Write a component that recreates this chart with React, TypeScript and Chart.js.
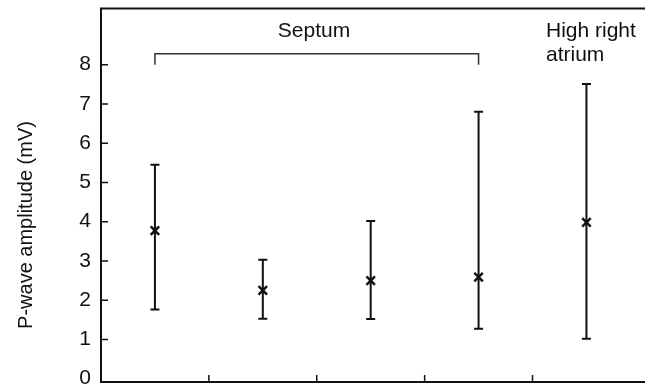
import { useEffect, useRef } from 'react';
import { Chart, registerables } from 'chart.js';

Chart.register(...registerables);

// ---- data ----
const categories = ['Septum 1', 'Septum 2', 'Septum 3', 'Septum 4', 'High right atrium'];
const means = [3.77, 2.25, 2.5, 2.59, 3.98];
const lows = [1.76, 1.53, 1.52, 1.27, 1.02];
const highs = [5.45, 3.03, 4.02, 6.8, 7.51];
const yTickValues = [0, 1, 2, 3, 4, 5, 6, 7, 8];
const xBoundaryTicks = [1, 2, 3, 4];
const yTitle = 'P-wave amplitude (mV)';
const septumLabel = 'Septum';
const atriumLabel = ['High right', 'atrium'];

const FONT = "'Liberation Sans', Arial, sans-serif";
const INK = '#111111';

export default function App() {
  const ref = useRef<HTMLCanvasElement>(null);

  useEffect(() => {
    const canvas = ref.current!;
    const points = categories.map((_, i) => ({ x: i + 0.5, y: means[i] }));

    const errorBars = {
      id: 'errorBars',
      beforeDatasetsDraw(chart: any) {
        const { ctx } = chart;
        const xs = chart.scales.x;
        const ys = chart.scales.y;
        ctx.save();
        ctx.strokeStyle = INK;
        ctx.lineWidth = 2;
        categories.forEach((_, i) => {
          const x = xs.getPixelForValue(i + 0.5);
          const yl = ys.getPixelForValue(lows[i]);
          const yh = ys.getPixelForValue(highs[i]);
          ctx.beginPath();
          ctx.moveTo(x, yl);
          ctx.lineTo(x, yh);
          ctx.moveTo(x - 4.5, yl);
          ctx.lineTo(x + 4.5, yl);
          ctx.moveTo(x - 4.5, yh);
          ctx.lineTo(x + 4.5, yh);
          ctx.stroke();
        });
        ctx.restore();
      },
    };

    const decorations = {
      id: 'decorations',
      afterDraw(chart: any) {
        const { ctx, chartArea, width } = chart;
        const xs = chart.scales.x;
        const ys = chart.scales.y;
        ctx.save();
        // axes frame: left, top, bottom
        ctx.strokeStyle = INK;
        ctx.lineWidth = 2;
        ctx.beginPath();
        ctx.moveTo(width, chartArea.top);
        ctx.lineTo(chartArea.left, chartArea.top);
        ctx.lineTo(chartArea.left, chartArea.bottom);
        ctx.lineTo(width, chartArea.bottom);
        ctx.stroke();
        // inner ticks
        ctx.lineWidth = 1.5;
        ctx.beginPath();
        yTickValues.forEach((v) => {
          if (v === 0) return;
          const y = ys.getPixelForValue(v);
          ctx.moveTo(chartArea.left, y);
          ctx.lineTo(chartArea.left + 7, y);
        });
        xBoundaryTicks.forEach((v) => {
          const x = xs.getPixelForValue(v);
          ctx.moveTo(x, chartArea.bottom);
          ctx.lineTo(x, chartArea.bottom - 7);
        });
        ctx.stroke();
        // septum bracket
        const bx1 = xs.getPixelForValue(0.5);
        const bx2 = xs.getPixelForValue(3.5);
        const byTop = ys.getPixelForValue(8.28);
        const byEnd = ys.getPixelForValue(8.0);
        ctx.strokeStyle = '#333333';
        ctx.lineWidth = 1.5;
        ctx.beginPath();
        ctx.moveTo(bx1, byEnd);
        ctx.lineTo(bx1, byTop);
        ctx.lineTo(bx2, byTop);
        ctx.lineTo(bx2, byEnd);
        ctx.stroke();
        // labels
        ctx.fillStyle = INK;
        ctx.font = `21px ${FONT}`;
        ctx.textBaseline = 'alphabetic';
        ctx.textAlign = 'center';
        ctx.fillText(septumLabel, 314, 37);
        ctx.textAlign = 'left';
        ctx.fillText(atriumLabel[0], 546, 37);
        ctx.fillText(atriumLabel[1], 546, 61);
        // y title
        ctx.font = `20px ${FONT}`;
        ctx.translate(26, 225);
        ctx.rotate(-Math.PI / 2);
        ctx.textAlign = 'center';
        ctx.textBaseline = 'middle';
        ctx.fillText(yTitle, 0, 0);
        ctx.restore();
      },
    };

    const chart = new Chart(canvas, {
      type: 'scatter',
      data: {
        datasets: [
          {
            data: points,
            pointStyle: 'crossRot',
            pointRadius: 6,
            pointBorderWidth: 2.5,
            borderColor: INK,
            backgroundColor: INK,
          },
        ],
      },
      options: {
        responsive: false,
        animation: false,
        layout: { padding: { left: 0, top: 7, right: 0, bottom: 9 } },
        plugins: {
          legend: { display: false },
          tooltip: { enabled: false },
        },
        scales: {
          x: {
            type: 'linear',
            display: false,
            min: 0,
            max: 4.964,
          },
          y: {
            type: 'linear',
            min: -0.084,
            max: 9.43,
            grid: { display: false, drawTicks: false },
            border: { display: false },
            ticks: {
              color: INK,
              font: { family: FONT, size: 21 },
              padding: 10,
              autoSkip: false,
            },
            afterBuildTicks(scale: any) {
              scale.ticks = yTickValues.map((v) => ({ value: v }));
            },
            afterFit(scale: any) {
              scale.width = 101;
              scale.paddingTop = 0;
              scale.paddingBottom = 0;
            },
          },
        },
      },
      plugins: [errorBars, decorations],
    });

    return () => chart.destroy();
  }, []);

  return (
    <div style={{ position: 'fixed', left: 0, top: 0, width: 645, height: 391, background: '#fff' }}>
      <canvas ref={ref} width={645} height={391} style={{ width: 645, height: 391, display: 'block' }} />
    </div>
  );
}
